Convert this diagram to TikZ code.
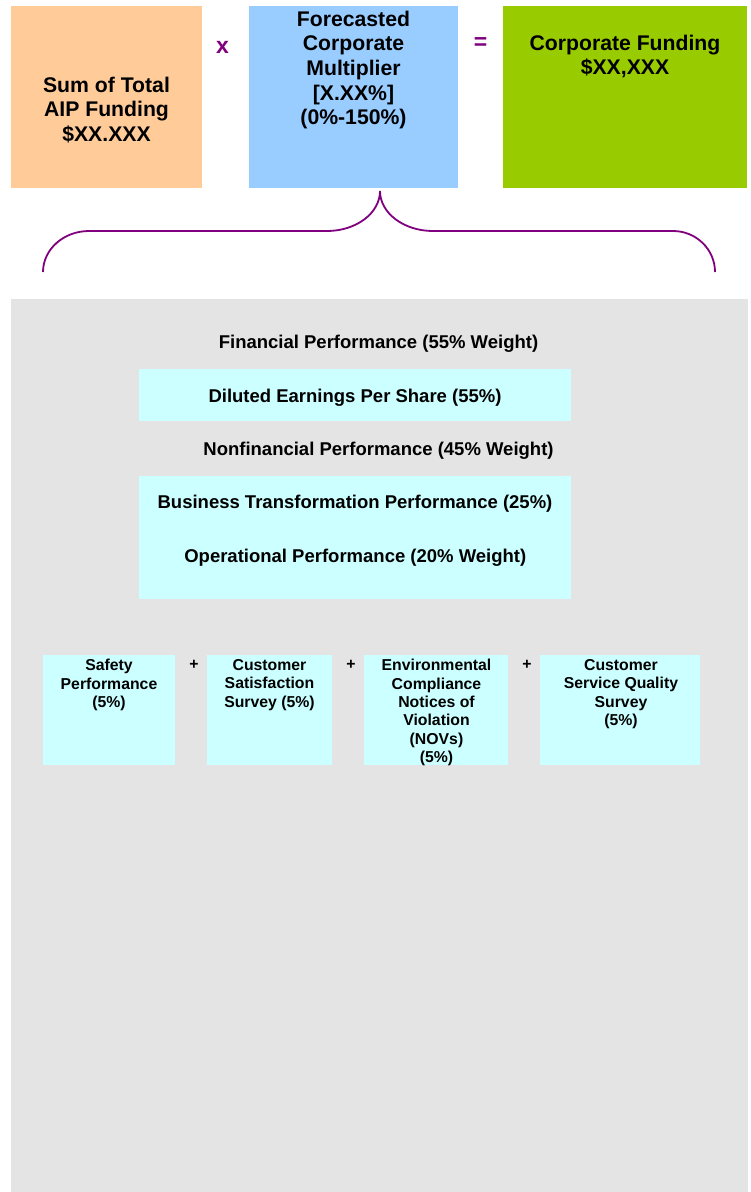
\documentclass[tikz,border=0pt]{standalone}
\usepackage{fontspec}
\setmainfont{Liberation Sans}
\definecolor{fundOrange}{HTML}{FFCC99}
\definecolor{multBlue}{HTML}{99CCFF}
\definecolor{corpGreen}{HTML}{99CC00}
\definecolor{paleCyan}{HTML}{CCFFFF}
\definecolor{panelGray}{HTML}{E4E4E4}
\definecolor{opPurple}{HTML}{800080}
\begin{document}
\begin{tikzpicture}[x=1pt,y=-1pt,
  box/.style={inner sep=0pt, outer sep=0pt, anchor=north west},
  bigtext/.style={font=\bfseries\fontsize{21.2}{24.6}\selectfont, align=center, inner sep=0pt, anchor=north},
  paneltext/.style={font=\bfseries\fontsize{18.5}{22}\selectfont, inner sep=0pt, anchor=base},
  smalltext/.style={font=\bfseries\fontsize{15.8}{18.3}\selectfont, align=center, inner sep=0pt, anchor=north},
  operator/.style={font=\bfseries\fontsize{23}{26}\selectfont, text=opPurple, inner sep=0pt},
  plus/.style={font=\bfseries\fontsize{15.8}{18}\selectfont, inner sep=0pt},
  brace/.style={draw=opPurple, line width=1.8pt}]
\fill[white] (0,0) rectangle (751,1192);
\useasboundingbox (0,0) rectangle (751,1192);

% funding formula
\node[box, fill=fundOrange, minimum width=191pt, minimum height=182pt] (sum) at (11,6) {};
\node[box, fill=multBlue, minimum width=209pt, minimum height=182pt] (mult) at (249,6) {};
\node[box, fill=corpGreen, minimum width=244pt, minimum height=182pt] (corp) at (503,6) {};

\node[bigtext] (sumtxt) at (106.5,76.7) {Sum of Total\\AIP Funding\\\$XX.XXX};
\node[bigtext] (multtxt) at (353.5,10.7) {Forecasted\\Corporate\\Multiplier\\{[X.XX\%]}\\(0\%-150\%)};
\node[bigtext] (corptxt) at (625,34.7) {Corporate Funding\\\$XX,XXX};

\node[operator] (times) at (222.5,47) {x};
\node[operator] (equals) at (480.5,44) {=};

% brace under the multiplier
\coordinate (braceL) at (43,272);
\coordinate (braceTip) at (380,191);
\coordinate (braceR) at (715,272);
\draw[brace] (braceL) .. controls (43,249.4) and (63.6,231) .. (89,231) -- (327,231)
  .. controls (356.3,231) and (380,213) .. (braceTip)
  .. controls (380,213) and (403.7,231) .. (433,231) -- (673,231)
  .. controls (696.2,231) and (715,249.4) .. (braceR);

% multiplier components
\node[box, fill=panelGray, minimum width=737pt, minimum height=893pt] (panel) at (11,299) {};

\node[box, fill=paleCyan, minimum width=432pt, minimum height=52pt] (eps) at (139,369.3) {};
\node[box, fill=paleCyan, minimum width=432pt, minimum height=122.5pt] (nonfin) at (139,476) {};

\node[paneltext] (fintxt) at (378.5,348.5) {Financial Performance (55\% Weight)};
\node[paneltext] (epstxt) at (355,402.2) {Diluted Earnings Per Share (55\%)};
\node[paneltext] (nonfintxt) at (378.5,455.2) {Nonfinancial Performance (45\% Weight)};
\node[paneltext] (bttxt) at (355,508.5) {Business Transformation Performance (25\%)};
\node[paneltext] (optxt) at (355.3,562.9) {Operational Performance (20\% Weight)};

% operational measures
\node[box, fill=paleCyan, minimum width=132pt, minimum height=110pt] (safety) at (43,655.3) {};
\node[box, fill=paleCyan, minimum width=125pt, minimum height=110pt] (satisf) at (207,655.3) {};
\node[box, fill=paleCyan, minimum width=143.4pt, minimum height=110pt] (envir) at (364.3,655.3) {};
\node[box, fill=paleCyan, minimum width=159.7pt, minimum height=110pt] (service) at (540.3,655.3) {};

\node[smalltext] (safetytxt) at (109,659.2) {Safety\\Performance\\(5\%)};
\node[smalltext] (satisftxt) at (269.5,659.2) {Customer\\Satisfaction\\Survey (5\%)};
\node[smalltext] (envirtxt) at (436.5,659.2) {Environmental\\Compliance\\Notices of\\Violation\\(NOVs)\\(5\%)};
\node[smalltext] (servicetxt) at (621,659.2) {Customer\\Service Quality\\Survey\\(5\%)};

\node[plus] (plusA) at (194,665) {+};
\node[plus] (plusB) at (351,665) {+};
\node[plus] (plusC) at (527,665) {+};
\end{tikzpicture}
\end{document}
